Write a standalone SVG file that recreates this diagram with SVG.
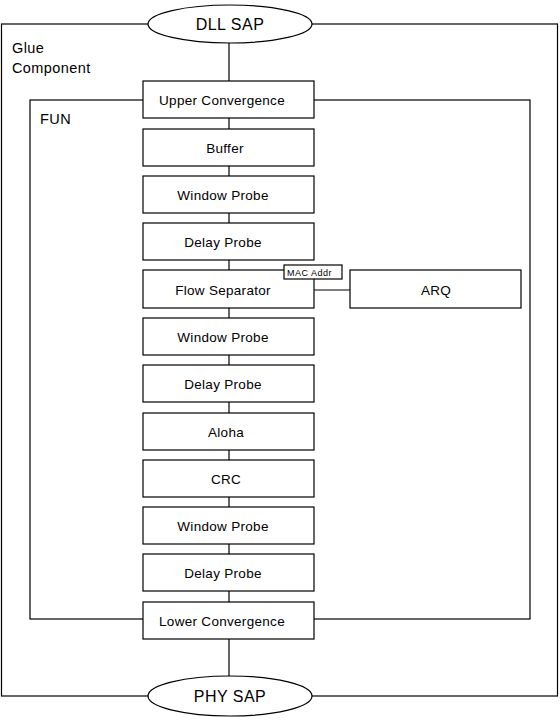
<svg xmlns="http://www.w3.org/2000/svg" width="560" height="720" viewBox="0 0 560 720">
<style>
.c{fill:none;stroke:#000;stroke-width:1.2}
.b{fill:#fff;stroke:#000;stroke-width:1.2}
.t{font-family:"Liberation Sans",Arial,sans-serif;font-size:13.5px;letter-spacing:0.3px;fill:#000}
.g{font-family:"Liberation Sans",Arial,sans-serif;font-size:14.5px;letter-spacing:0.4px;fill:#000}
.m{text-anchor:middle}
.s{font-family:"Liberation Sans",Arial,sans-serif;font-size:9px;letter-spacing:0.5px;fill:#000}
.e{font-family:"Liberation Sans",Arial,sans-serif;font-size:16px;letter-spacing:0.5px;fill:#000;text-anchor:middle}
</style>
<rect width="560" height="720" fill="#fff"/>
<g id="glue">
<rect class="c" x="1.5" y="24" width="556" height="672"/>
<text class="g" x="12" y="53">Glue</text>
<text class="g" x="12" y="73">Component</text>
</g>
<g id="fun">
<rect class="c" x="30" y="100" width="500" height="519"/>
<text class="g" x="40" y="124">FUN</text>
</g>
<g id="connectors">
<path class="c" d="M229 42V81M229 118V129M229 166V176M229 213V223M229 260V270M229 308V318M229 355V365M229 402V413M229 450V460M229 497V507M229 544V554M229 591V602M229 639V676M314 290H350"/>
</g>
<g id="dll"><ellipse class="b" cx="230" cy="24" rx="82" ry="19"/><text class="e" x="230" y="30">DLL SAP</text></g>
<g id="phy"><ellipse class="b" cx="230" cy="696" rx="82" ry="20"/><text class="e" x="230" y="702">PHY SAP</text></g>
<g id="upper"><rect class="b" x="143" y="81" width="171" height="37"/><text class="t m" x="222" y="105">Upper Convergence</text></g>
<g id="buffer"><rect class="b" x="143" y="129" width="171" height="37"/><text class="t m" x="225" y="153">Buffer</text></g>
<g id="wp1"><rect class="b" x="143" y="176" width="171" height="37"/><text class="t m" x="223" y="200">Window Probe</text></g>
<g id="dp1"><rect class="b" x="143" y="223" width="171" height="37"/><text class="t m" x="223" y="247">Delay Probe</text></g>
<g id="fs"><rect class="b" x="143" y="270" width="171" height="38"/><text class="t m" x="223" y="295">Flow Separator</text>
<rect class="b" x="284" y="265" width="58" height="14" stroke-width="1"/><text class="s" x="287" y="276">MAC Addr</text></g>
<g id="arq"><rect class="b" x="350" y="270" width="171" height="38"/><text class="t m" x="436" y="295">ARQ</text></g>
<g id="wp2"><rect class="b" x="143" y="318" width="171" height="37"/><text class="t m" x="223" y="342">Window Probe</text></g>
<g id="dp2"><rect class="b" x="143" y="365" width="171" height="37"/><text class="t m" x="223" y="389">Delay Probe</text></g>
<g id="aloha"><rect class="b" x="143" y="413" width="171" height="37"/><text class="t m" x="226" y="437">Aloha</text></g>
<g id="crc"><rect class="b" x="143" y="460" width="171" height="37"/><text class="t m" x="226" y="484">CRC</text></g>
<g id="wp3"><rect class="b" x="143" y="507" width="171" height="37"/><text class="t m" x="223" y="531">Window Probe</text></g>
<g id="dp3"><rect class="b" x="143" y="554" width="171" height="37"/><text class="t m" x="223" y="578">Delay Probe</text></g>
<g id="lower"><rect class="b" x="143" y="602" width="171" height="37"/><text class="t m" x="222" y="626">Lower Convergence</text></g>
</svg>
